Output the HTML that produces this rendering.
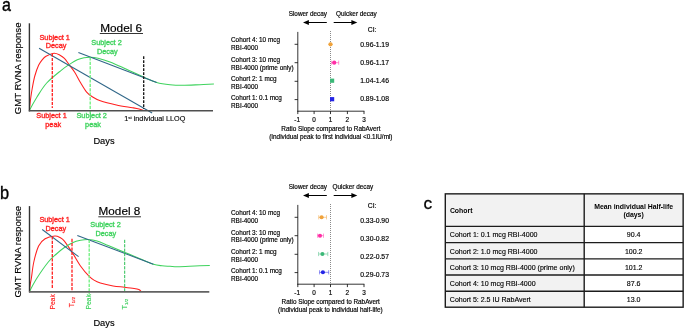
<!DOCTYPE html>
<html>
<head>
<meta charset="utf-8">
<style>
html,body{margin:0;padding:0;background:#fff;}
body{width:685px;height:329px;overflow:hidden;font-family:"Liberation Sans",sans-serif;}
svg{display:block;position:absolute;left:0;top:0;will-change:transform;}
text{font-family:"Liberation Sans",sans-serif;fill:#000;}
.lab{font-size:17.8px;stroke:#000;stroke-width:0.35px;}
.ax{font-size:9.8px;stroke:#000;stroke-width:0.15px;}
.t64{font-size:6.4px;stroke:#000;stroke-width:0.17px;}
.t68{font-size:6.8px;stroke:#000;stroke-width:0.17px;}
.t7{font-size:7.05px;stroke:#000;stroke-width:0.14px;}
.red{fill:#ff1f1f;stroke:#ff1f1f;stroke-width:0.34px;font-size:7.3px;}
.grn{fill:#3fd35e;stroke:#3fd35e;stroke-width:0.34px;font-size:7.3px;}
.mid{text-anchor:middle;}
</style>
</head>
<body>
<svg width="685" height="329" viewBox="0 0 685 329">
<rect width="685" height="329" fill="#fff"/>

<!-- panel a : model 6 -->
<g id="pa">
<text class="lab" transform="translate(1.9,10.7) scale(0.9,1)">a</text>
<text class="ax" transform="translate(20.9,114.3) rotate(-90)" textLength="91.8" lengthAdjust="spacingAndGlyphs">GMT RVNA response</text>
<text x="100.2" y="31.8" font-size="11.6" stroke="#000" stroke-width="0.18" textLength="42" lengthAdjust="spacingAndGlyphs">Model 6</text>
<line x1="99.8" y1="33.5" x2="143" y2="33.5" stroke="#000" stroke-width="0.8"/>
<path d="M29.40,110.30 C29.60,108.42 30.13,102.63 30.60,99.00 C31.07,95.37 31.50,92.33 32.20,88.50 C32.90,84.67 33.73,79.87 34.80,76.00 C35.87,72.13 37.37,68.00 38.60,65.30 C39.83,62.60 40.97,61.30 42.20,59.80 C43.43,58.30 44.03,57.38 46.00,56.30 C47.97,55.22 51.67,53.48 54.00,53.30 C56.33,53.12 58.27,54.35 60.00,55.20 C61.73,56.05 62.87,56.80 64.40,58.40 C65.93,60.00 67.48,62.48 69.20,64.80 C70.92,67.12 72.80,69.30 74.70,72.30 C76.60,75.30 78.65,79.55 80.60,82.80 C82.55,86.05 84.45,89.47 86.40,91.80 C88.35,94.13 89.98,95.30 92.30,96.80 C94.62,98.30 96.28,99.45 100.30,100.80 C104.32,102.15 111.03,103.75 116.40,104.90 C121.77,106.05 128.73,107.02 132.50,107.70 C136.27,108.38 137.13,108.52 139.00,109.00 C140.87,109.48 142.92,110.33 143.70,110.60" fill="none" stroke="#ff1f1f" stroke-width="1.05"/>
<path d="M29.40,110.30 C30.67,108.08 34.12,101.55 37.00,97.00 C39.88,92.45 42.67,87.45 46.70,83.00 C50.73,78.55 57.45,73.37 61.20,70.30 C64.95,67.23 66.52,66.35 69.20,64.60 C71.88,62.85 74.83,60.93 77.30,59.80 C79.77,58.67 81.85,58.23 84.00,57.80 C86.15,57.37 87.87,57.13 90.20,57.20 C92.53,57.27 94.70,57.42 98.00,58.20 C101.30,58.98 105.33,60.10 110.00,61.90 C114.67,63.70 120.38,66.45 126.00,69.00 C131.62,71.55 138.58,74.97 143.70,77.20 C148.82,79.43 152.32,81.15 156.70,82.40 C161.08,83.65 165.70,84.22 170.00,84.70 C174.30,85.18 177.50,85.30 182.50,85.30 C187.50,85.30 194.77,84.90 200.00,84.70 C205.23,84.50 211.58,84.20 213.90,84.10" fill="none" stroke="#3fd35e" stroke-width="1.05"/>
<line x1="39.1" y1="48.2" x2="152.1" y2="113" stroke="#2f6688" stroke-width="1.02"/>
<line x1="78.4" y1="52.5" x2="156.7" y2="82.4" stroke="#2f6688" stroke-width="1.02"/>
<line x1="52.3" y1="53.5" x2="52.3" y2="108" stroke="#ff1f1f" stroke-width="1.3" stroke-dasharray="3.2,1.2"/>
<line x1="90.2" y1="57.4" x2="90.2" y2="114.3" stroke="#6cf07c" stroke-width="1.3" stroke-dasharray="3.2,1.2"/>
<line x1="143.7" y1="56.3" x2="143.7" y2="109" stroke="#111" stroke-width="1.3" stroke-dasharray="2.8,1.2"/>
<line x1="29.4" y1="23.3" x2="29.4" y2="111.4" stroke="#333" stroke-width="1.4"/>
<line x1="28.8" y1="110.75" x2="213" y2="110.75" stroke="#4f4f4f" stroke-width="1.6"/>
<text class="red mid" x="54.7" y="39.5">Subject 1</text>
<text class="red mid" x="56" y="48.3">Decay</text>
<text class="grn mid" x="106.5" y="44.6">Subject 2</text>
<text class="grn mid" x="107.3" y="53.5">Decay</text>
<text class="red mid" x="51.5" y="118.4">Subject 1</text>
<text class="red mid" x="53.2" y="126.9">peak</text>
<text class="grn mid" x="91.7" y="118.4">Subject 2</text>
<text class="grn mid" x="93" y="126.9">peak</text>
<text x="124.2" y="121.3" font-size="7.2" stroke="#000" stroke-width="0.12" textLength="61.2" lengthAdjust="spacingAndGlyphs">1<tspan font-size="4.4" dy="-2.6">st</tspan><tspan dy="2.6"> individual LLOQ</tspan></text>
<text class="ax" x="93.4" y="143.5" style="font-size:9.3px">Days</text>
</g>
<!-- forest a -->
<g id="fa">
<text class="t64" x="288.7" y="16.1" textLength="38.2" lengthAdjust="spacingAndGlyphs">Slower decay</text>
<text class="t64" x="336.1" y="16.1" textLength="40.7" lengthAdjust="spacingAndGlyphs">Quicker decay</text>
<line x1="307" y1="22.5" x2="326.8" y2="22.5" stroke="#000" stroke-width="1"/>
<path d="M303,22.5 L308.9,20.0 L308.9,25.0 Z" fill="#000"/>
<line x1="333.7" y1="22.5" x2="353" y2="22.5" stroke="#000" stroke-width="1"/>
<path d="M357.3,22.5 L351.4,20.0 L351.4,25.0 Z" fill="#000"/>
<text class="t68" x="367.8" y="31.7">CI:</text>
<line x1="297.8" y1="31.9" x2="297.8" y2="111.6" stroke="#000" stroke-width="0.8"/>
<line x1="297.4" y1="111.2" x2="364.4" y2="111.2" stroke="#000" stroke-width="0.8"/>
<g stroke="#000" stroke-width="0.8">
<line x1="294.6" y1="44.3" x2="297.8" y2="44.3"/><line x1="294.6" y1="62.7" x2="297.8" y2="62.7"/><line x1="294.6" y1="81.3" x2="297.8" y2="81.3"/><line x1="294.6" y1="99.6" x2="297.8" y2="99.6"/><line x1="297.8" y1="111.2" x2="297.8" y2="114.1"/><line x1="314.1" y1="111.2" x2="314.1" y2="114.1"/><line x1="330.5" y1="111.2" x2="330.5" y2="114.1"/><line x1="347.4" y1="111.2" x2="347.4" y2="114.1"/><line x1="364.0" y1="111.2" x2="364.0" y2="114.1"/>
</g>
<line x1="330.5" y1="31" x2="330.5" y2="111.2" stroke="#3a3a3a" stroke-width="0.6" stroke-dasharray="1,1"/>
<text class="t64 mid" x="297.2" y="121.5">-1</text><text class="t64 mid" x="314.1" y="121.5">0</text><text class="t64 mid" x="330.5" y="121.5">1</text><text class="t64 mid" x="347.4" y="121.5">2</text><text class="t64 mid" x="364.0" y="121.5">3</text>
<text class="t64" x="231" y="41.8">Cohort 4: 10 mcg</text>
<text class="t64" x="231" y="49.7">RBI-4000</text>
<text class="t64" x="231" y="61.7">Cohort 3: 10 mcg</text>
<text class="t64" x="231" y="69.6">RBI-4000 (prime only)</text>
<text class="t64" x="231" y="80.6">Cohort 2: 1 mcg</text>
<text class="t64" x="231" y="88.6">RBI-4000</text>
<text class="t64" x="231" y="99.8">Cohort 1: 0.1 mcg</text>
<text class="t64" x="231" y="107.6">RBI-4000</text>
<text class="t68" x="360.2" y="47.0">0.96-1.19</text>
<text class="t68" x="360.2" y="64.8">0.96-1.17</text>
<text class="t68" x="360.2" y="83.0">1.04-1.46</text>
<text class="t68" x="360.2" y="101.0">0.89-1.08</text>
<circle cx="330.5" cy="44.3" r="2.15" fill="#f0a23a"/>
<g stroke="#ff2ea6" stroke-width="0.6" opacity="0.85"><line x1="331.3" y1="62.7" x2="338.7" y2="62.7"/><line x1="331.3" y1="60.6" x2="331.3" y2="64.8"/><line x1="338.7" y1="60.6" x2="338.7" y2="64.8"/></g>
<circle cx="334.2" cy="62.7" r="2.10" fill="#ff2ea6"/>
<rect x="330" y="78.6" width="4.2" height="4.2" fill="#3cb878"/>
<rect x="330" y="97.1" width="4.2" height="4.2" fill="#2424e6"/>
<text class="t64" x="281.3" y="130.9" textLength="99.2" lengthAdjust="spacingAndGlyphs">Ratio Slope compared to RabAvert</text>
<text class="t64" x="269.2" y="138.7" textLength="123.3" lengthAdjust="spacingAndGlyphs">(Individual peak to first individual &lt;0.1IU/ml)</text>
</g>

<!-- panel b : model 8 -->
<g id="pb">
<text class="lab" transform="translate(0.1,198.8) scale(0.92,1)">b</text>
<text class="ax" transform="translate(20.9,297.6) rotate(-90)" textLength="91.8" lengthAdjust="spacingAndGlyphs">GMT RVNA response</text>
<text x="98.6" y="215.1" font-size="11.6" stroke="#000" stroke-width="0.18" textLength="41.7" lengthAdjust="spacingAndGlyphs">Model 8</text>
<line x1="98.3" y1="216.8" x2="141" y2="216.8" stroke="#000" stroke-width="0.8"/>
<path d="M29.40,291.50 C29.55,290.25 29.97,286.25 30.30,284.00 C30.63,281.75 30.82,281.67 31.40,278.00 C31.98,274.33 32.60,267.35 33.80,262.00 C35.00,256.65 36.72,249.78 38.60,245.90 C40.48,242.02 42.40,240.35 45.10,238.70 C47.80,237.05 52.32,236.20 54.80,236.00 C57.28,235.80 58.40,236.65 60.00,237.50 C61.60,238.35 62.35,238.58 64.40,241.10 C66.45,243.62 69.58,248.42 72.30,252.60 C75.02,256.78 77.92,262.27 80.70,266.20 C83.48,270.13 86.78,273.88 89.00,276.20 C91.22,278.52 92.12,278.98 94.00,280.10 C95.88,281.22 97.12,281.93 100.30,282.90 C103.48,283.87 109.08,285.18 113.10,285.90 C117.12,286.62 120.90,286.77 124.40,287.20 C127.90,287.63 131.70,288.10 134.10,288.50 C136.50,288.90 137.62,289.12 138.80,289.60 C139.98,290.08 140.80,291.10 141.20,291.40" fill="none" stroke="#ff1f1f" stroke-width="1.05"/>
<path d="M29.40,291.50 C30.67,289.25 33.85,282.92 37.00,278.00 C40.15,273.08 45.07,266.00 48.30,262.00 C51.53,258.00 53.72,256.42 56.40,254.00 C59.08,251.58 61.72,249.38 64.40,247.50 C67.08,245.62 69.82,243.90 72.50,242.70 C75.18,241.50 77.82,240.83 80.50,240.30 C83.18,239.77 85.85,239.38 88.60,239.50 C91.35,239.62 93.72,240.00 97.00,241.00 C100.28,242.00 103.73,243.63 108.30,245.50 C112.87,247.37 119.12,250.00 124.40,252.20 C129.68,254.40 135.17,256.70 140.00,258.70 C144.83,260.70 149.73,263.02 153.40,264.20 C157.07,265.38 159.23,265.45 162.00,265.80 C164.77,266.15 167.33,266.15 170.00,266.30 C172.67,266.45 173.83,266.75 178.00,266.70 C182.17,266.65 189.70,266.22 195.00,266.00 C200.30,265.78 207.33,265.50 209.80,265.40" fill="none" stroke="#3fd35e" stroke-width="1.05"/>
<line x1="42.2" y1="229.5" x2="78.6" y2="256.7" stroke="#2f6688" stroke-width="1.02"/>
<line x1="77.3" y1="235.5" x2="153.4" y2="264.2" stroke="#2f6688" stroke-width="1.02"/>
<line x1="52.3" y1="236.3" x2="52.3" y2="289" stroke="#ff1f1f" stroke-width="1.3" stroke-dasharray="3.2,1.2"/>
<line x1="72" y1="238.7" x2="72" y2="291.5" stroke="#ff1f1f" stroke-width="1.3" stroke-dasharray="3.2,1.2"/>
<line x1="89.2" y1="239.8" x2="89.2" y2="294.5" stroke="#6cf07c" stroke-width="1.3" stroke-dasharray="3.2,1.2"/>
<line x1="124.7" y1="239.8" x2="124.7" y2="291.5" stroke="#2cc154" stroke-width="1.0" stroke-dasharray="3.2,1.2"/>
<line x1="29.5" y1="206.1" x2="29.5" y2="292.4" stroke="#333" stroke-width="1.4"/>
<line x1="29" y1="291.9" x2="209.3" y2="291.9" stroke="#626262" stroke-width="1.8"/>
<text class="red mid" x="54.6" y="222.2">Subject 1</text>
<text class="red mid" x="55.8" y="231">Decay</text>
<text class="grn mid" x="105.5" y="227">Subject 2</text>
<text class="grn mid" x="105.8" y="235.6">Decay</text>
<text class="red" style="font-size:6.7px;stroke-width:0.15px" transform="translate(54.7,309.5) rotate(-90)">Peak</text>
<text class="red" style="font-size:6.7px;stroke-width:0.15px" transform="translate(73.6,307.3) rotate(-90)">T<tspan font-size="4.4" dy="1.3">1/2</tspan></text>
<text class="grn" style="font-size:6.7px;stroke-width:0.15px" transform="translate(91.4,309.5) rotate(-90)">Peak</text>
<text class="grn" style="font-size:7.4px;stroke-width:0.1px;fill:#35cc58;stroke:#35cc58" transform="translate(127,309.4) rotate(-90)">T<tspan font-size="4.4" dy="1.3">1/2</tspan></text>
<text class="ax" x="93.4" y="326.1" style="font-size:9.3px">Days</text>
</g>
<!-- forest b -->
<g id="fb">
<text class="t64" x="288.7" y="189.1" textLength="38.2" lengthAdjust="spacingAndGlyphs">Slower decay</text>
<text class="t64" x="332.5" y="189.1" textLength="40.7" lengthAdjust="spacingAndGlyphs">Quicker decay</text>
<line x1="307" y1="195.5" x2="326.8" y2="195.5" stroke="#000" stroke-width="1"/>
<path d="M303,195.5 L308.9,193.0 L308.9,198.0 Z" fill="#000"/>
<line x1="333.7" y1="195.5" x2="353" y2="195.5" stroke="#000" stroke-width="1"/>
<path d="M357.3,195.5 L351.4,193.0 L351.4,198.0 Z" fill="#000"/>
<text class="t68" x="367.8" y="207.8">CI:</text>
<line x1="297.8" y1="204.9" x2="297.8" y2="284.6" stroke="#000" stroke-width="0.8"/>
<line x1="297.4" y1="284.2" x2="364.4" y2="284.2" stroke="#000" stroke-width="0.8"/>
<g stroke="#000" stroke-width="0.8">
<line x1="294.6" y1="217.3" x2="297.8" y2="217.3"/><line x1="294.6" y1="235.7" x2="297.8" y2="235.7"/><line x1="294.6" y1="254.3" x2="297.8" y2="254.3"/><line x1="294.6" y1="272.6" x2="297.8" y2="272.6"/><line x1="297.8" y1="284.2" x2="297.8" y2="287.1"/><line x1="314.1" y1="284.2" x2="314.1" y2="287.1"/><line x1="330.5" y1="284.2" x2="330.5" y2="287.1"/><line x1="347.4" y1="284.2" x2="347.4" y2="287.1"/><line x1="364.0" y1="284.2" x2="364.0" y2="287.1"/>
</g>
<line x1="330.5" y1="204" x2="330.5" y2="284.2" stroke="#3a3a3a" stroke-width="0.6" stroke-dasharray="1,1"/>
<text class="t64 mid" x="297.2" y="294.5">-1</text><text class="t64 mid" x="314.1" y="294.5">0</text><text class="t64 mid" x="330.5" y="294.5">1</text><text class="t64 mid" x="347.4" y="294.5">2</text><text class="t64 mid" x="364.0" y="294.5">3</text>
<text class="t64" x="231" y="214.6">Cohort 4: 10 mcg</text>
<text class="t64" x="231" y="222.7">RBI-4000</text>
<text class="t64" x="231" y="234.5">Cohort 3: 10 mcg</text>
<text class="t64" x="231" y="242.3">RBI-4000 (prime only)</text>
<text class="t64" x="231" y="253.6">Cohort 2: 1 mcg</text>
<text class="t64" x="231" y="261.6">RBI-4000</text>
<text class="t64" x="231" y="272.8">Cohort 1: 0.1 mcg</text>
<text class="t64" x="231" y="280.6">RBI-4000</text>
<text class="t68" x="360.2" y="222.8">0.33-0.90</text>
<text class="t68" x="360.2" y="240.9">0.30-0.82</text>
<text class="t68" x="360.2" y="258.5">0.22-0.57</text>
<text class="t68" x="360.2" y="277.0">0.29-0.73</text>
<g stroke="#f0a23a" stroke-width="0.6" opacity="0.85"><line x1="318.7" y1="217.3" x2="326.5" y2="217.3"/><line x1="318.7" y1="215.2" x2="318.7" y2="219.4"/><line x1="326.5" y1="215.2" x2="326.5" y2="219.4"/></g>
<circle cx="321.6" cy="217.3" r="2.05" fill="#f0a23a"/>
<g stroke="#ff2ea6" stroke-width="0.6" opacity="0.85"><line x1="317.6" y1="235.7" x2="323.6" y2="235.7"/><line x1="317.6" y1="233.6" x2="317.6" y2="237.8"/><line x1="323.6" y1="233.6" x2="323.6" y2="237.8"/></g>
<circle cx="320.0" cy="235.7" r="2.05" fill="#ff2ea6"/>
<g stroke="#3cb878" stroke-width="0.6" opacity="0.85"><line x1="318.6" y1="254.0" x2="327.8" y2="254.0"/><line x1="318.6" y1="251.9" x2="318.6" y2="256.1"/><line x1="327.8" y1="251.9" x2="327.8" y2="256.1"/></g>
<circle cx="322.4" cy="254.0" r="2.05" fill="#3cb878"/>
<g stroke="#2424e6" stroke-width="0.6" opacity="0.85"><line x1="319.4" y1="272.3" x2="328.7" y2="272.3"/><line x1="319.4" y1="270.2" x2="319.4" y2="274.4"/><line x1="328.7" y1="270.2" x2="328.7" y2="274.4"/></g>
<circle cx="322.9" cy="272.3" r="2.05" fill="#2424e6"/>
<text class="t64" x="281.6" y="303.9" textLength="98.3" lengthAdjust="spacingAndGlyphs">Ratio Slope compared to RabAvert</text>
<text class="t64" x="278.1" y="311.7" textLength="104.6" lengthAdjust="spacingAndGlyphs">(Individual peak to individual half-life)</text>
</g>

<!-- panel c : table -->
<g id="pc">
<text x="423.5" y="209.4" font-size="17.2" stroke="#000" stroke-width="0.3">c</text>
<rect x="445.3" y="193.85" width="237.85" height="32.5" fill="#f2f2f2"/>
<rect x="445.3" y="226.1" width="138.9" height="81.1" fill="#f2f2f2"/>
<g stroke="#1c1c1c" stroke-width="1.4" fill="none">
<rect x="445.3" y="193.85" width="237.85" height="113.35"/>
<line x1="584.2" y1="193.85" x2="584.2" y2="307.2"/>
<line x1="445.1" y1="226.4" x2="683.15" y2="226.4"/>
<line x1="445.1" y1="242.6" x2="683.15" y2="242.6"/>
<line x1="445.1" y1="258.9" x2="683.15" y2="258.9"/>
<line x1="445.1" y1="275.0" x2="683.15" y2="275.0"/>
<line x1="445.1" y1="291.2" x2="683.15" y2="291.2"/>
</g>
<text font-size="6.9" font-weight="bold" x="449.9" y="212.9">Cohort</text>
<text class="mid" font-size="6.9" font-weight="bold" x="633.6" y="208.7">Mean individual Half-life</text>
<text class="mid" font-size="6.9" font-weight="bold" x="633.6" y="216.7">(days)</text>
<text class="t7" x="449.8" y="237.2">Cohort 1: 0.1 mcg RBI-4000</text><text class="t7 mid" x="633.7" y="237.2">90.4</text>
<text class="t7" x="449.8" y="253.6">Cohort 2: 1.0 mcg RBI-4000</text><text class="t7 mid" x="633.7" y="253.6">100.2</text>
<text class="t7" x="449.8" y="269.8">Cohort 3: 10 mcg RBI-4000 (prime only)</text><text class="t7 mid" x="633.7" y="269.8">101.2</text>
<text class="t7" x="449.8" y="286.2">Cohort 4: 10 mcg RBI-4000</text><text class="t7 mid" x="633.7" y="286.2">87.6</text>
<text class="t7" x="449.8" y="302.4">Cohort 5: 2.5 IU RabAvert</text><text class="t7 mid" x="633.7" y="302.4">13.0</text>
</g>
</svg>
</body>
</html>
